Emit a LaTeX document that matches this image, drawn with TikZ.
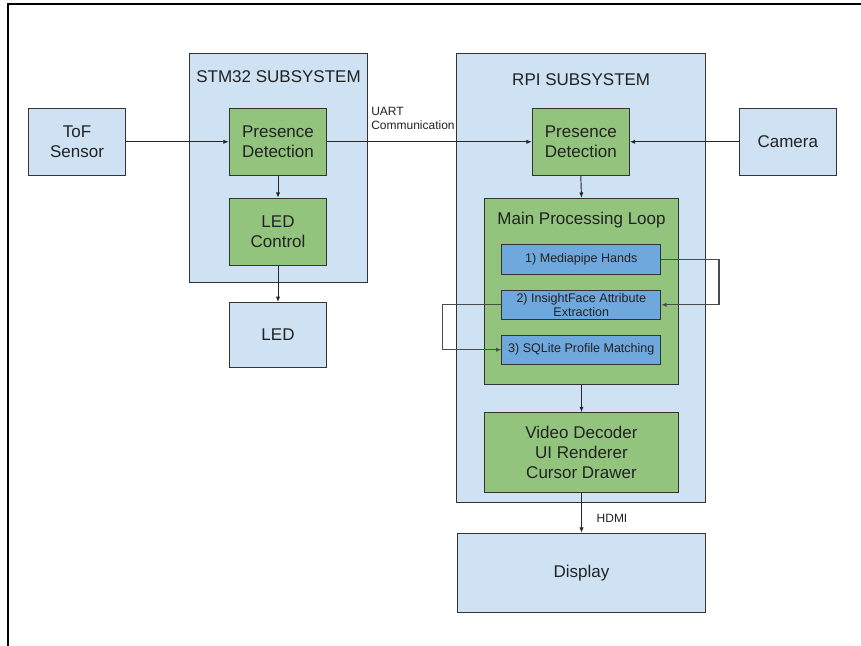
\documentclass[tikz,border=0pt]{standalone}
\usepackage{fontspec}
\setmainfont{Liberation Sans}
\usetikzlibrary{arrows.meta}
\definecolor{lblue}{HTML}{CFE2F3}
\definecolor{lgreen}{HTML}{93C47D}
\definecolor{mblue}{HTML}{6FA8DC}
\definecolor{edge}{HTML}{333333}
\definecolor{txt}{HTML}{222222}
\tikzset{
  sz/.style 2 args={minimum width=#1*0.75pt, minimum height=#2*0.75pt},
  blk/.style={draw=edge, line width=0.8pt, inner sep=0pt, align=center, text=txt,
    font=\fontsize{12.75}{15}\selectfont},
  bluebox/.style={blk, fill=lblue},
  greenbox/.style={blk, fill=lgreen},
  subbox/.style={blk, fill=mblue, font=\fontsize{9.4}{10.8}\selectfont},
  ttl/.style={text=txt, inner sep=0pt, font=\fontsize{12.75}{15}\selectfont},
  lbl/.style={text=txt, inner sep=0pt, align=left, font=\fontsize{9}{10.5}\selectfont},
  conn/.style={draw=black!85, line width=0.7pt, -{Latex[length=4pt,width=3.2pt]}},
  loopconn/.style={draw=black!70, line width=0.8pt, -{Latex[length=4pt,width=3.2pt]}},
}
\begin{document}
\begin{tikzpicture}[x=0.75pt, y=-0.75pt]
\useasboundingbox (0,0) rectangle (861,646);
\fill[white] (0,0) rectangle (861,646);
\draw[line width=1.2pt, black] (8,646) -- (8,4) -- (861,4);

% containers
\node[bluebox, sz={178}{229}] (stm) at (278.5,167.8) {};
\node[ttl] (stmt) at (278.5,77) {STM32 SUBSYSTEM};
\node[bluebox, sz={249}{449}] (rpi) at (581.2,277.8) {};
\node[ttl] (rpit) at (581.2,80) {RPI SUBSYSTEM};

% left side
\node[bluebox, sz={97}{67}] (tof) at (77,141.8) {ToF\\Sensor};
\node[greenbox, sz={97.4}{67}] (pd1) at (278,141.8) {Presence\\Detection};
\node[greenbox, sz={97.4}{67.4}] (ledc) at (278,232) {LED\\Control};
\node[bluebox, sz={97.4}{65}] (led) at (278,335) {LED};

% right side
\node[greenbox, sz={97}{67}] (pd2) at (580.8,141.8) {Presence\\Detection};
\node[bluebox, sz={97}{67}] (cam) at (787.8,141.8) {Camera};
\node[greenbox, sz={194.4}{185.7}] (main) at (581.5,291.2) {};
\node[ttl] (maint) at (581.5,220) {Main Processing Loop};
\node[subbox, sz={158.7}{29.7}] (mp) at (581.3,259.2) {1) Mediapipe Hands};
\node[subbox, sz={158.7}{29}] (ins) at (581.3,304.8) {2) InsightFace Attribute\\Extraction};
\node[subbox, sz={158.7}{29.3}] (sq) at (581.3,349.7) {3) SQLite Profile Matching};
\node[greenbox, sz={194.4}{79.6}] (vid) at (581.5,452.5) {Video Decoder\\UI Renderer\\Cursor Drawer};
\node[bluebox, sz={248.4}{79}] (disp) at (581.5,572.8) {Display};

% labels
\node[lbl, anchor=west] (uart) at (371,118) {UART\\Communication};
\node[lbl] (hdmi) at (612,518) {HDMI};

% connectors
\draw[conn] (tof.east) -- (pd1.west);
\draw[conn] (pd1.east) -- (pd2.west);
\draw[conn] (cam.west) -- (pd2.east);
\draw[conn] (pd1.south) -- (ledc.north);
\draw[conn] (ledc.south) -- (led.north);
\draw[conn] (pd2.south) -- (main.north);
\coordinate (rr) at (719,0);
\coordinate (ll) at (442.7,0);
\draw[loopconn] (mp.east) -- (mp.east -| rr) |- (ins.east);
\draw[loopconn] (ins.west) -- (ins.west -| ll) |- (sq.west);
\draw[conn] (main.south) -- (vid.north);
\draw[conn] (vid.south) -- (disp.north);
\end{tikzpicture}
\end{document}
